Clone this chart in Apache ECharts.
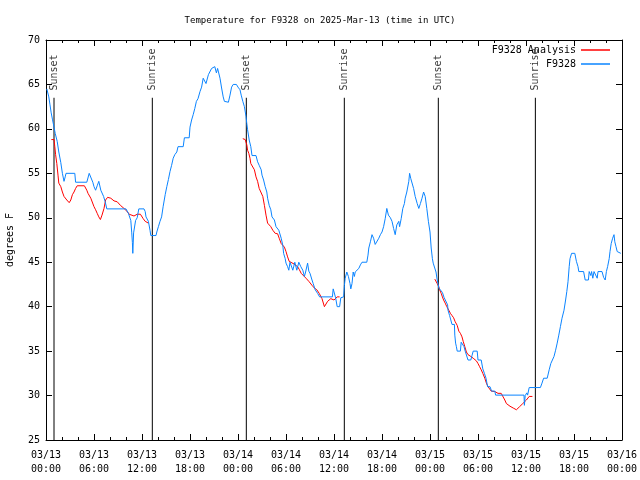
<!DOCTYPE html>
<html>
<head>
<meta charset="utf-8">
<script src="https://cdn.jsdelivr.net/npm/echarts@6/dist/echarts.min.js"></script>
<style>html,body{margin:0;padding:0;background:#fff}#c{width:640px;height:480px}</style>
</head>
<body>
<div id="c"></div>
<script>
// Hours since 03/13 00:00 UTC
var xTickLabels = ['03/13\n00:00','03/13\n06:00','03/13\n12:00','03/13\n18:00','03/14\n00:00','03/14\n06:00','03/14\n12:00','03/14\n18:00','03/15\n00:00','03/15\n06:00','03/15\n12:00','03/15\n18:00','03/16\n00:00'];

var obsHours = [0.1,0.35,0.5,0.65,0.8,1.0,1.15,1.4,1.6,1.85,2.05,2.25,2.4,2.5,3.6,3.7,5.1,5.4,5.6,5.85,6.0,6.2,6.4,6.6,6.85,7.2,7.4,7.6,10.0,10.3,10.6,10.72,10.8,10.85,10.95,11.2,11.4,11.6,12.25,12.4,12.5,12.65,12.8,13.0,13.1,13.75,13.85,14.05,14.25,14.45,14.65,14.9,15.1,15.3,15.5,15.7,15.9,16.1,16.35,16.5,17.15,17.3,17.9,18.0,18.2,18.4,18.6,18.8,19.0,19.25,19.45,19.65,19.8,20.0,20.3,20.5,20.7,20.9,21.1,21.3,21.45,21.6,21.75,21.95,22.15,22.3,22.8,23.0,23.2,23.4,23.8,24.0,24.25,24.4,24.6,24.8,25.0,25.1,25.2,25.4,25.6,25.75,26.25,26.45,26.65,26.9,27.0,27.2,27.4,27.6,27.7,27.9,28.1,28.25,28.55,28.75,29.1,29.4,29.6,29.7,29.9,30.0,30.2,30.35,30.5,30.65,30.85,31.1,31.35,31.6,31.85,32.1,32.3,32.45,32.7,32.85,33.0,33.25,33.4,33.65,33.95,34.2,35.8,35.9,36.1,36.2,36.4,36.7,36.85,37.2,37.3,37.4,37.6,37.8,38.0,38.1,38.25,38.4,38.55,38.65,38.85,39.1,39.3,39.5,40.1,40.25,40.35,40.55,40.75,40.95,41.15,41.4,41.6,41.8,42.0,42.2,42.4,42.6,42.8,43.05,43.25,43.45,43.65,43.85,44.1,44.2,44.4,44.6,44.8,44.9,45.1,45.35,45.45,45.6,45.75,45.95,46.15,46.4,46.6,46.8,47.0,47.2,47.4,47.6,47.8,48.0,48.15,48.3,48.4,48.6,48.75,48.9,49.0,49.1,49.35,49.55,49.75,50.0,50.2,50.25,50.45,50.7,50.75,51.05,51.1,51.2,51.3,51.4,51.8,51.9,52.15,52.25,52.4,52.6,52.75,53.1,53.25,53.4,53.9,54.0,54.4,54.6,54.8,55.0,55.2,55.5,55.7,56.1,56.2,59.75,59.8,59.9,60.1,60.2,60.4,61.8,62.0,62.2,62.65,62.9,63.1,63.3,63.5,63.7,63.9,64.1,64.3,64.5,64.75,64.95,65.1,65.25,65.4,65.5,65.7,66.1,66.3,66.5,66.6,67.2,67.4,67.8,67.9,68.1,68.2,68.35,68.5,68.75,68.9,69.0,69.5,69.7,69.9,70.05,70.2,70.4,70.5,70.65,70.83,71.0,71.1,71.25,71.4,71.85];
var obsTemps = [64.5,63.6,62.7,61.8,61.1,60.2,59.5,58.6,57.4,56.2,55.0,54.1,54.6,55,55,54,54,55,55,54,53.5,53.1,53.6,54.1,53.1,52.4,51.8,51,51,50.5,49.7,48.3,47.2,46,48.3,49.7,50,51,51,50.7,50.1,50,49.6,48.6,48,48,48.4,49,49.6,50.1,51.3,52.6,53.5,54.3,55.2,55.9,56.7,57.1,57.4,58,58,59,59,60.2,61,61.6,62.3,63.1,63.4,64.2,64.7,65.7,65.7,65.1,66.1,66.1,66.8,67,67,66.3,66.8,67,65.7,64.6,63.6,63.1,63,63.8,64.7,65,65,64.7,64.4,63.8,63.1,62.5,61.4,60.6,59.9,58.75,58,57,57,56.3,55.9,55.4,54.8,54.25,53.5,52.9,52.2,51.4,50.9,50.1,49.75,49,48.6,47.7,46.9,46,45.4,44.9,44.5,44.1,45,45.1,44.1,45,44.1,45,44.5,44.1,43.4,43.9,44.9,44,43.75,43,42.6,41.9,41.5,41.1,41.1,42,42,41,40,40,41,41.1,42.4,43.2,43.9,43.4,42.6,42,42.6,43.9,43.4,43.9,44.1,44.3,44.7,45,45,45.8,46.6,47.3,48.1,47.7,47,47,47.7,48.1,48.4,49,49.9,51.05,50.3,50,49.6,48.8,48.1,49.2,49.6,49,49.9,51.05,51.6,52.2,52.9,54.1,55,54.4,54.25,53.3,52.4,51.6,51.05,51.6,52.2,52.9,52.4,51.05,49.6,48.4,46.6,45.4,44.9,44.9,43.9,43,42.6,42.1,41.9,41.6,41.05,41.05,40.2,39.6,39,39,38,38,36.8,35.9,35.5,35,35,36,36,35.5,35,35,34,34,34.5,35,35,34,34,33,32.5,31.95,31,31,30.5,30.5,30.05,30.05,28.9,30,30.3,30.05,30.9,30.9,31.4,31.95,31.95,32.9,33.6,34,34.4,35.1,35.9,36.8,37.75,38.7,39.6,40.75,41.7,42.8,44.5,45.4,46,46,45.1,44.5,43.95,43.95,43,43,43.95,43.5,43.95,43.2,43.95,43.95,43.2,43.95,43.95,43.3,43,43.95,44.5,45.4,46.2,47.1,47.7,48.1,47.3,46.75,46.2,46];

var anaHours1 = [0.67,1.0,1.1,1.2,1.35,1.5,1.6,1.85,2.05,2.25,2.6,2.9,3.1,3.3,3.5,3.7,3.9,4.8,5.1,5.25,5.6,5.8,6.0,6.2,6.4,6.6,6.8,7.0,7.25,7.45,7.7,8.1,8.5,8.9,9.3,9.75,10.15,10.4,10.6,11.0,11.2,11.4,11.8,12.0,12.15,12.4,12.6,12.8];
var anaTemps1 = [58.8,58.8,58,57.1,56.1,54.8,53.9,53.5,52.9,52.4,52,51.7,52,52.6,52.9,53.3,53.6,53.6,53.1,52.75,52.2,52,51.25,50.9,50.5,50.1,49.8,50.3,51.05,52,52.3,52.2,51.9,51.8,51.4,51.05,50.7,50.4,50.2,50.2,50.3,50.4,50.4,50.2,49.9,49.6,49.5,49.4];
var anaHours2 = [24.6,24.9,25.1,25.2,25.35,25.5,25.6,25.85,26.05,26.25,26.45,26.65,26.9,27.1,27.3,27.5,27.7,28.1,28.35,28.65,28.95,29.15,29.4,29.6,29.8,30.0,30.2,30.4,30.6,31.0,31.25,31.45,31.65,31.9,32.1,32.5,32.9,33.25,33.55,33.85,34.15,34.5,34.8,35.0,35.2,35.4,35.6,35.8,36.0,36.4,36.7];
var anaTemps2 = [58.9,58.8,58.2,57.6,57.25,56.7,56.1,55.9,55.4,54.6,54.1,53.3,53.1,52.4,51.4,50.3,49.4,49,48.6,48.25,48.2,47.7,47.1,47.05,46.7,46.2,45.6,45.1,44.9,44.8,44.7,44.5,44.2,43.75,43.6,43.2,42.8,42.4,42.1,41.9,41.5,40.9,40,40.3,40.6,40.75,40.9,40.75,40.75,41.1,41.1];
var anaHours3 = [48.6,48.8,48.9,49.1,49.2,49.4,49.55,49.7,49.9,50.1,50.35,50.55,50.75,50.95,51.15,51.4,51.6,51.8,52.0,52.15,52.35,52.55,52.75,53.1,53.4,53.6,53.8,54.0,54.2,54.4,54.6,54.85,55.05,55.25,55.45,55.65,56.1,56.5,56.9,57.1,57.35,57.55,57.75,58.0,58.2,58.4,58.6,58.8,59.0,59.2,59.4,59.6,59.85,60.05,60.25,60.4,60.8];
var anaTemps3 = [43.1,43,42.6,42.25,41.9,41.5,41.1,40.75,40.4,40,39.6,39.25,39,38.75,38.3,37.9,37.25,37,36.6,36.1,35.5,34.9,34.6,34.4,34.2,34,33.9,33.6,33.25,32.9,32.5,31.95,31.4,31,30.75,30.5,30.45,30.25,30.25,30.05,29.5,29.1,28.9,28.8,28.75,28.6,28.4,28.4,28.6,28.75,28.9,29.1,29.3,29.5,29.7,29.9,29.9];

var sunHours = [1.0,13.29,25.04,37.29,49.04,61.17];
var sunNames = ['Sunset','Sunrise','Sunset','Sunrise','Sunset','Sunrise'];

var FONT = 'DejaVu Sans Mono';

function pairs(h, t){ return h.map(function(x,i){ return [x, t[i]]; }); }
var anaData = pairs(anaHours1, anaTemps1).concat([[18, null]], pairs(anaHours2, anaTemps2), [[42, null]], pairs(anaHours3, anaTemps3));
var obsData = pairs(obsHours, obsTemps);
var sunLineData = [];
sunHours.forEach(function(h){ sunLineData.push([h, 63.5], [h, 25], [h, null]); });
var sunLabelData = sunHours.map(function(h,i){ return [h, 64.15, sunNames[i]]; });

var chart = echarts.init(document.getElementById('c'), null, {renderer:'canvas'});
var axisCommon = {
  type:'value', min:0, max:72, interval:6,
  axisLine:{show:true, onZero:false, lineStyle:{color:'#000', width:1}},
  axisTick:{show:true, inside:true, length:6, lineStyle:{color:'#000'}},
  minorTick:{show:true, splitNumber:3, length:3, lineStyle:{color:'#000'}},
  splitLine:{show:false}
};
var yCommon = {
  type:'value', min:25, max:70, interval:5,
  axisLine:{show:true, onZero:false, lineStyle:{color:'#000', width:1}},
  axisTick:{show:true, inside:true, length:6, lineStyle:{color:'#000'}},
  splitLine:{show:false}
};
chart.setOption({
  animation:false,
  backgroundColor:'#fff',
  title:{text:'Temperature for F9328 on 2025-Mar-13 (time in UTC)', left:'center', top:11,
    textStyle:{fontFamily:FONT, fontSize:9, fontWeight:'normal', color:'#000'}},
  grid:{left:46, right:18, top:40, bottom:40, containLabel:false, outerBoundsMode:'none'},
  legend:[
    {data:['F9328 Analysis'], right:30, top:45, padding:0, align:'right', icon:'rect', itemWidth:29, itemHeight:1.5, itemGap:0,
      textStyle:{fontFamily:FONT, fontSize:10, color:'#000'}},
    {data:['F9328'], right:30, top:59, padding:0, align:'right', icon:'rect', itemWidth:29, itemHeight:1.5, itemGap:0,
      textStyle:{fontFamily:FONT, fontSize:10, color:'#000'}}
  ],
  xAxis:[
    Object.assign({}, axisCommon, {position:'bottom',
      axisLabel:{show:true, margin:8, color:'#000', fontFamily:FONT, fontSize:10, lineHeight:14,
        formatter:function(v){ return xTickLabels[Math.round(v/6)]; }}}),
    Object.assign({}, axisCommon, {position:'top', axisLabel:{show:false}})
  ],
  yAxis:[
    Object.assign({}, yCommon, {position:'left', name:'degrees F', nameLocation:'middle', nameGap:31, nameRotate:90,
      nameTextStyle:{fontFamily:FONT, fontSize:10, color:'#000'},
      axisLabel:{show:true, margin:6, color:'#000', fontFamily:FONT, fontSize:10}}),
    Object.assign({}, yCommon, {position:'right', axisLabel:{show:false}})
  ],
  series:[
    {name:'sun', type:'line', data:sunLineData, symbol:'none', connectNulls:false,
      lineStyle:{color:'#000', width:1}, itemStyle:{color:'#000'}, silent:true},
    {name:'sunLabels', type:'scatter', data:sunLabelData, symbolSize:0, silent:true,
      label:{show:true, position:'inside', rotate:90, align:'left', verticalAlign:'middle', offset:[1.5,0],
        color:'#000', fontFamily:FONT, fontSize:10, formatter:function(p){ return p.data[2]; }}},
    {name:'F9328 Analysis', type:'line', data:anaData, symbol:'none', connectNulls:false,
      lineStyle:{color:'#ff0000', width:1}, itemStyle:{color:'#ff0000'}},
    {name:'F9328', type:'line', data:obsData, symbol:'none',
      lineStyle:{color:'#0a84ff', width:1}, itemStyle:{color:'#0a84ff'}}
  ]
});
</script>
</body>
</html>
